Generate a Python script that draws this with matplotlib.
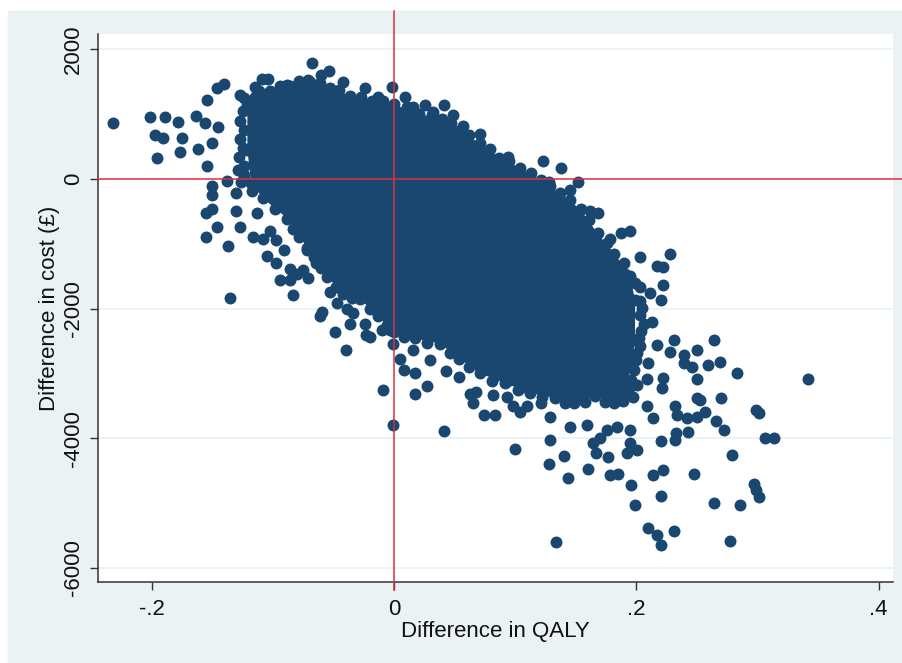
import matplotlib
matplotlib.use('Agg')
import matplotlib.pyplot as plt
from matplotlib.patches import Rectangle

plt.rcParams['font.family'] = ['Liberation Sans', 'DejaVu Sans']

# ---- data (difference in QALY, difference in cost) ----
# outline of the solid, fully overplotted core of the cloud
core_qaly = [-0.121, -0.115, -0.102, -0.086, -0.069, -0.053, -0.036, -0.018, 0.000,
             0.021, 0.040, 0.054, 0.071, 0.087, 0.104, 0.121, 0.137, 0.154, 0.168,
             0.182, 0.195, 0.199, 0.199, 0.196, 0.191, 0.182, 0.166, 0.149, 0.133,
             0.112, 0.092, 0.071, 0.054, 0.038, 0.017, 0.000, -0.013, -0.028, -0.042,
             -0.055, -0.066, -0.078, -0.088, -0.108, -0.118, -0.121]
core_cost = [1140, 1270, 1350, 1440, 1500, 1410, 1280, 1210, 1150,
             1000, 920, 740, 550, 330, 170, -20, -220, -470, -840,
             -1150, -1500, -1870, -2480, -2870, -3280, -3450, -3350, -3450, -3380,
             -3300, -3150, -3000, -2770, -2540, -2460, -2360, -2120, -1850, -1770,
             -1510, -1200, -890, -610, -300, -60, 450]

# individual (visible) replicates around and along the edge of the core
pt_qaly = [-0.232, -0.201, -0.189, -0.178, -0.197, -0.191, -0.175, -0.196, -0.177, -0.162,
           -0.163, -0.154, -0.146, -0.140, -0.150, -0.154, -0.138, -0.150, -0.115, -0.109,
           -0.104, -0.156, -0.145, -0.129, -0.150, -0.130, -0.155, -0.150, -0.130, -0.113,
           -0.146, -0.155, -0.127, -0.137, -0.116, -0.108, -0.102, -0.097, -0.091, -0.105,
           -0.097, -0.086, -0.080, -0.094, -0.086, -0.071, -0.075, -0.072, -0.069, -0.135,
           -0.083, -0.064, -0.053, -0.061, -0.059, -0.049, -0.047, -0.039, -0.034, -0.036,
           -0.024, -0.023, -0.040, -0.020, -0.010, -0.003, -0.001, -0.009, -0.001, 0.017,
           0.027, 0.041, 0.005, 0.008, 0.017, 0.016, 0.030, 0.043, 0.054, 0.063,
           0.065, 0.068, 0.074, 0.083, 0.082, 0.093, 0.085, 0.096, 0.104, 0.100,
           0.129, 0.098, 0.110, 0.121, 0.129, 0.134, 0.128, 0.140, 0.144, 0.160,
           0.178, 0.185, 0.196, 0.199, 0.220, 0.214, 0.222, 0.210, 0.217, 0.220,
           0.231, 0.248, 0.264, 0.286, 0.277, 0.297, 0.301, 0.299, 0.279, 0.306,
           0.314, 0.299, 0.301, 0.342, 0.283, 0.264, 0.270, 0.266, 0.272, 0.253,
           0.250, 0.242, 0.243, 0.232, 0.234, 0.232, 0.233, 0.220, 0.250, 0.259,
           0.269, 0.246, 0.239, 0.250, 0.231, 0.228, 0.217, 0.239, 0.222, 0.221,
           0.210, 0.209, 0.201, 0.187, 0.197, 0.209, 0.214, 0.250, 0.257, 0.195,
           0.201, 0.192, 0.177, 0.167, 0.164, 0.145, 0.170, 0.176, 0.184, 0.195,
           0.159, 0.104, 0.049, 0.057, 0.071, 0.067, 0.094, 0.123, 0.138, 0.128,
           0.152, 0.145, 0.162, 0.168, 0.178, 0.187, 0.195, 0.167, 0.203, 0.228,
           0.217, 0.222, 0.222, 0.199, 0.191, 0.220, 0.211, 0.213, -0.068, -0.060,
           -0.054, -0.071, -0.042, -0.024, -0.013, -0.002, 0.009, 0.026, 0.041, 0.032,
           0.016, -0.088, -0.127,
           # edge replicates: left side
           -0.125, -0.127, -0.124, -0.127, -0.125, -0.128, -0.124, -0.124, -0.126,
           # top edge
           -0.124, -0.111, -0.094, -0.078, -0.061, -0.045, -0.027, -0.009,
           # upper-right edge
           0.011, 0.031, 0.047, 0.062, 0.079, 0.095, 0.113, 0.129, 0.145, 0.161,
           0.176, 0.190, 0.203,
           # right edge
           0.203, 0.205, 0.203, 0.206, 0.204, 0.202, 0.203, 0.201, 0.200, 0.198,
           0.196, 0.194,
           # bottom edge
           0.008, 0.027, 0.046, 0.062, 0.081, 0.102, 0.122, 0.141, 0.158, 0.174, 0.189,
           # lower-left edge
           -0.117, -0.098, -0.083, -0.072, -0.060, -0.048, -0.035, -0.020, -0.006]
pt_cost = [860, 960, 960, 880, 680, 630, 640, 320, 410, 470,
           970, 1220, 1400, 1470, 550, 200, -30, -110, 1420, 1550,
           1550, 860, 800, 140, -250, -220, -530, -460, -500, -530,
           -740, -890, -740, -1030, -890, -930, -810, -940, -1100, -1190,
           -1300, -1390, -1470, -1560, -1560, -1530, -1400, -1100, -990, -1840,
           -1790, -1300, -1740, -2120, -2050, -2360, -1920, -2000, -2070, -2230,
           -2230, -2410, -2640, -2440, -2330, -2330, -2540, -3260, -3790, -3310,
           -3200, -3890, -2770, -2950, -3000, -2640, -2790, -2970, -3050, -3310,
           -3460, -3280, -3640, -3640, -3330, -3360, -3020, -3100, -3220, -4160,
           -4030, -3510, -3510, -3460, -3670, -5600, -4390, -4280, -4610, -4480,
           -4570, -4550, -4720, -5030, -4890, -4570, -4490, -5390, -5490, -5650,
           -5430, -4550, -5000, -5030, -5580, -4700, -4900, -4800, -4260, -3990,
           -3990, -3560, -3610, -3080, -3000, -2480, -3380, -3740, -3870, -3410,
           -3670, -3690, -3900, -3510, -3640, -4030, -3920, -4050, -3080, -2870,
           -2820, -2900, -2840, -2640, -2480, -2670, -2560, -2720, -3070, -3230,
           -2840, -3080, -3180, -3410, -3360, -3510, -3690, -3380, -3590, -4070,
           -4180, -4230, -4290, -4230, -4070, -3830, -4000, -3870, -3820, -3870,
           -3800, -3590, 990, 810, 690, 500, 340, 270, 170, -40,
           -40, -170, -500, -530, -930, -840, -800, -1060, -1200, -1150,
           -1350, -1360, -1640, -1610, -1460, -1870, -1760, -2200, 1790, 1600,
           1660, 1530, 1500, 1400, 1270, 1420, 1270, 1140, 1140, 1040,
           1110, 1450, 1300,
           1050, 900, 760, 620, 480, 340, 200, 60, -40,
           1250, 1360, 1430, 1510, 1480, 1370, 1260, 1200,
           1110, 990, 860, 680, 470, 280, 90, -110, -330, -640,
           -980, -1300, -1660,
           -1880, -1990, -2100, -2230, -2340, -2450, -2570, -2690, -2800, -2950,
           -3100, -3220,
           -2440, -2530, -2680, -2900, -3110, -3260, -3370, -3460, -3440, -3440, -3420,
           -190, -470, -770, -1060, -1370, -1660, -1830, -2000, -2260]

x_ticks = [-0.2, 0.0, 0.2, 0.4]
x_ticklabels = ['-.2', '0', '.2', '.4']
y_ticks = [-6000, -4000, -2000, 0, 2000]
y_ticklabels = ['-6000', '-4000', '-2000', '0', '2000']
grid_levels = [-6000, -4000, -2000, 2000]

navy = '#1A476F'
red = '#D9303E'
bg = '#EAF2F3'

fig = plt.figure(figsize=(9.03, 6.63), dpi=100)
fig.patch.set_facecolor('white')
fig.patches.append(Rectangle((8 / 903, 0), 1 - 8 / 903, 1 - 11 / 663,
                             transform=fig.transFigure, color=bg, zorder=-10))

ax = fig.add_axes([98 / 903, 1 - 582 / 663, (893 - 98) / 903, (582 - 34) / 663])
ax.set_zorder(1)
ax.set_facecolor('white')
ax.set_xlim(-0.2443, 0.4119)
ax.set_ylim(-6218, 2237)

for g in grid_levels:
    ax.axhline(g, color=bg, lw=1.3, zorder=1)

ax.fill(core_qaly, core_cost, color=navy, lw=0, zorder=2)
ax.scatter(core_qaly + pt_qaly, core_cost + pt_cost, s=74, color=navy,
           linewidths=0, zorder=3)

ax.plot([0, 0], [-6342, 2592], color=red, lw=1.1, clip_on=False, zorder=5)
ax.plot([-0.2443, 0.4205], [0, 0], color=red, lw=1.1, clip_on=False, zorder=5)

for s in ['top', 'right']:
    ax.spines[s].set_visible(False)
for s in ['left', 'bottom']:
    ax.spines[s].set_color('#333333')
    ax.spines[s].set_linewidth(1.1)

ax.set_xticks(x_ticks)
ax.set_xticklabels(x_ticklabels)
ax.set_yticks(y_ticks)
ax.set_yticklabels(y_ticklabels, rotation=90, va='center')
ax.tick_params(axis='both', direction='out', length=6, width=1.0, color='#333333',
               labelsize=16, labelcolor='#111111')
ax.tick_params(axis='x', pad=6)
ax.tick_params(axis='y', pad=4)

ax.set_xlabel('Difference in QALY', fontsize=16, color='#111111', labelpad=1)
ax.set_ylabel('Difference in cost (£)', fontsize=16, color='#111111', labelpad=2)

fig.savefig('out.png', dpi=100)
